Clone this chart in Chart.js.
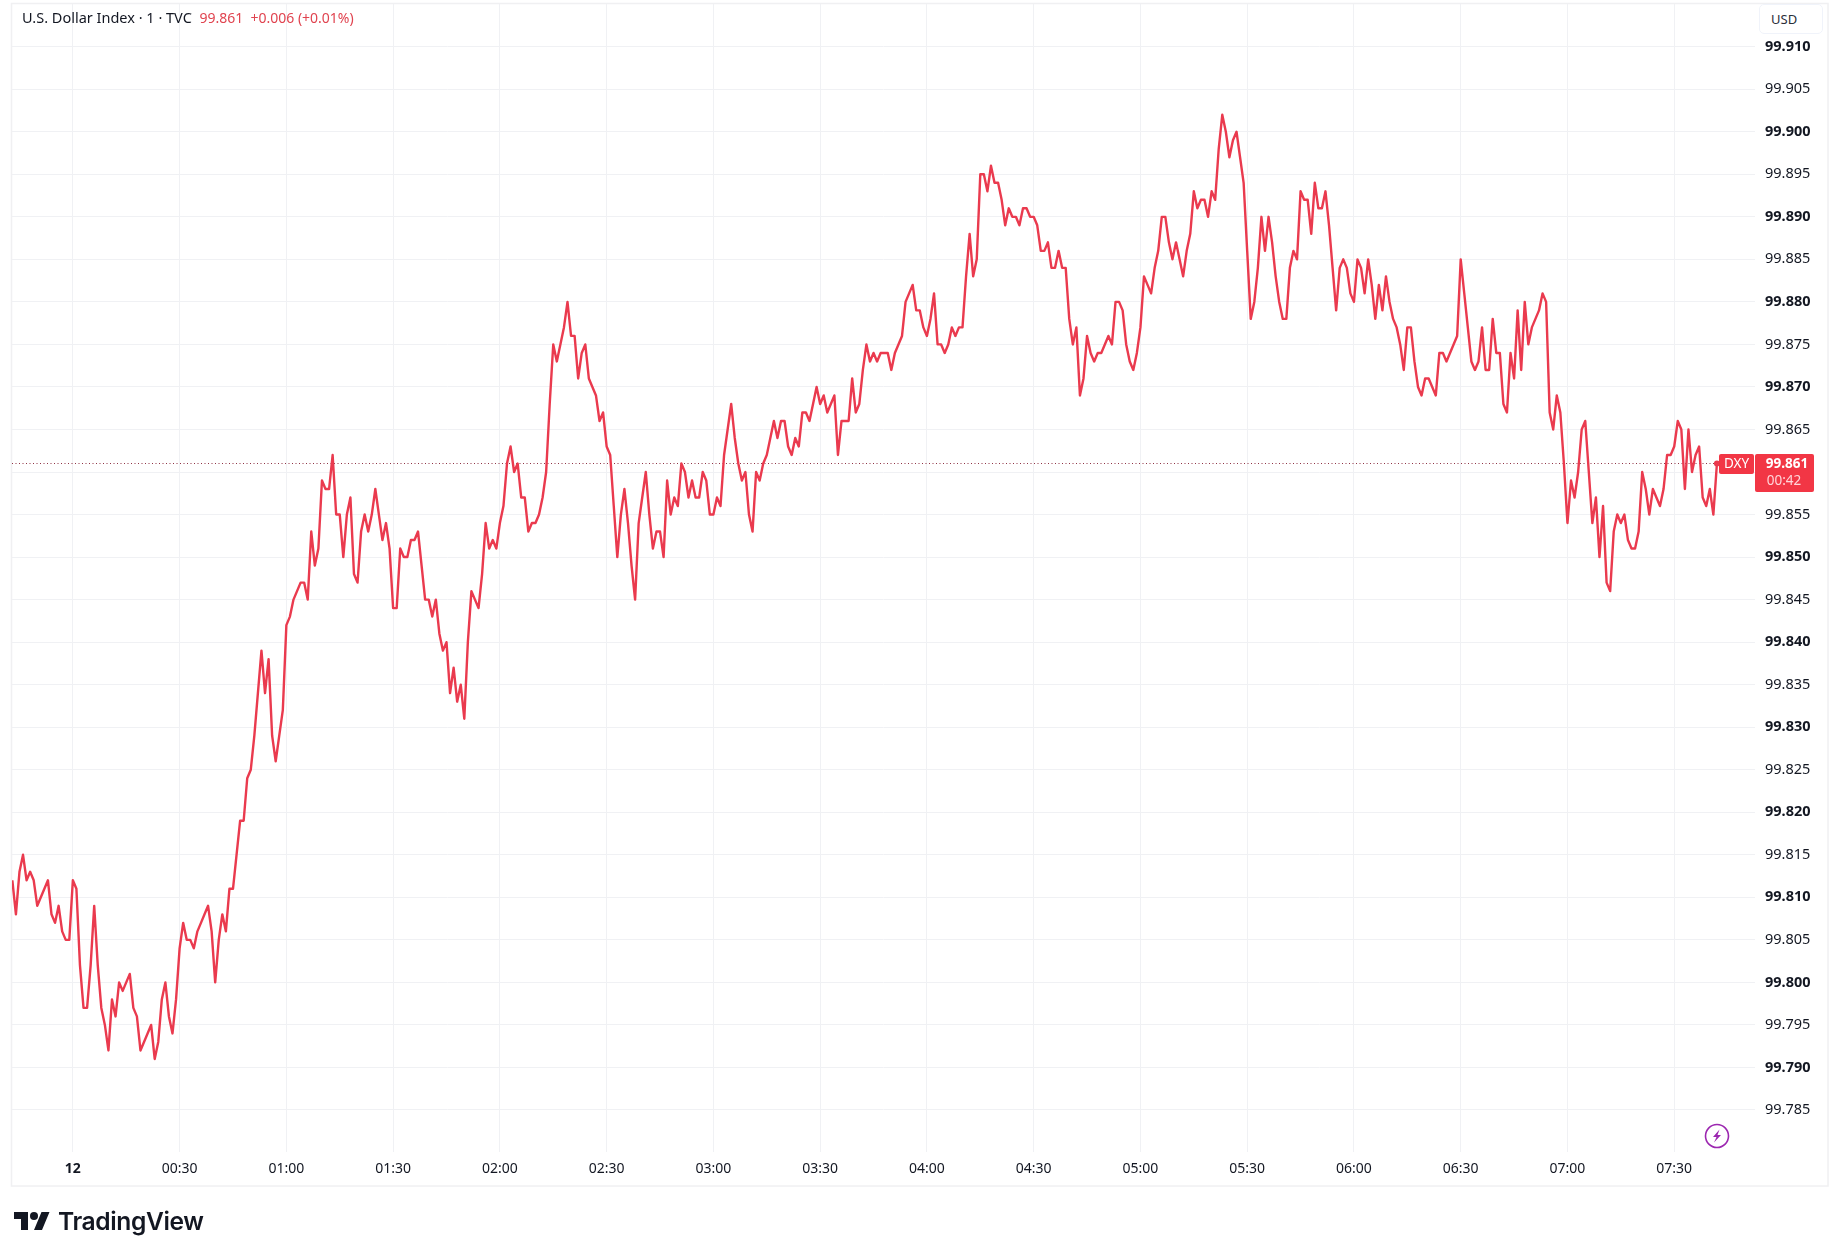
<!DOCTYPE html>
<html>
<head>
<meta charset="utf-8">
<title>U.S. Dollar Index</title>
<script src="https://cdn.jsdelivr.net/npm/chart.js@4/dist/chart.umd.min.js"></script>
<style>
    html, body { margin: 0; padding: 0; background: #fff; }
    #wrap { position: relative; width: 1840px; height: 1258px; overflow: hidden; font-family: "Noto Sans", sans-serif; }
    #chart { position: absolute; left: 0; top: 0; }
    #legend { position: absolute; left: 22px; top: 7px; font-size: 14.5px; line-height: 20px; color: #131722; white-space: pre; }
    #legend span { color: #e0434f; font-size: 14px; }
    #usd { position: absolute; left: 1759px; top: 4px; width: 64px; height: 30px; box-sizing: border-box; border: 1px solid #f0f3fa; border-radius: 5px; font-size: 13px; line-height: 28px; padding-left: 11px; color: #2a2e39; background: #fff; }
    #bolt { position: absolute; left: 1704px; top: 1123px; }
    #logo { position: absolute; left: 14px; top: 1208px; }
    #logoText { position: absolute; left: 58px; top: 1204px; font-family: Inter, sans-serif; font-weight: 600; font-size: 24.6px; line-height: 34px; letter-spacing: -0.4px; color: #131722; }
</style>
</head>
<body>
<div id="wrap">
    <canvas id="chart" width="1840" height="1258"></canvas>
    <div id="legend">U.S. Dollar Index · 1 · TVC  <span>99.861  +0.006 (+0.01%)</span></div>
    <div id="usd">USD</div>
    <svg id="bolt" width="26" height="26" viewBox="0 0 26 26">
        <circle cx="13" cy="13" r="11.5" fill="#fff" stroke="#9c27b0" stroke-width="1.6"/>
        <path d="M15.5 6.5 L9 14 L12.5 14 L10 19.5 L17 12 L13.5 12 Z" fill="#9c27b0"/>
    </svg>
    <svg id="logo" width="36" height="26" viewBox="0 0 36 26">
        <path d="M14 22H7V11H0V4h14v18zM28 22h-8l7.5-18h8L28 22z" fill="#131722"/>
        <circle cx="20" cy="8" r="4" fill="#131722"/>
    </svg>
    <div id="logoText">TradingView</div>
</div>
<script>
// 每分钟收盘价，从 23:43 开始
var closes = [
    99.812, 99.808, 99.813, 99.815, 99.812, 99.813, 99.812, 99.809, 99.810, 99.811, 99.812, 99.808, 99.807, 99.809, 99.806, 99.805, 99.805, 99.812, 99.811, 99.802,
    99.797, 99.797, 99.802, 99.809, 99.802, 99.797, 99.795, 99.792, 99.798, 99.796, 99.800, 99.799, 99.800, 99.801, 99.797, 99.796, 99.792, 99.793, 99.794, 99.795,
    99.791, 99.793, 99.798, 99.800, 99.796, 99.794, 99.798, 99.804, 99.807, 99.805, 99.805, 99.804, 99.806, 99.807, 99.808, 99.809, 99.806, 99.800, 99.805, 99.808,
    99.806, 99.811, 99.811, 99.815, 99.819, 99.819, 99.824, 99.825, 99.829, 99.834, 99.839, 99.834, 99.838, 99.829, 99.826, 99.829, 99.832, 99.842, 99.843, 99.845,
    99.846, 99.847, 99.847, 99.845, 99.853, 99.849, 99.851, 99.859, 99.858, 99.858, 99.862, 99.855, 99.855, 99.850, 99.855, 99.857, 99.848, 99.847, 99.853, 99.855,
    99.853, 99.855, 99.858, 99.855, 99.852, 99.854, 99.851, 99.844, 99.844, 99.851, 99.850, 99.850, 99.852, 99.852, 99.853, 99.849, 99.845, 99.845, 99.843, 99.845,
    99.841, 99.839, 99.840, 99.834, 99.837, 99.833, 99.835, 99.831, 99.840, 99.846, 99.845, 99.844, 99.848, 99.854, 99.851, 99.852, 99.851, 99.854, 99.856, 99.861,
    99.863, 99.860, 99.861, 99.857, 99.857, 99.853, 99.854, 99.854, 99.855, 99.857, 99.860, 99.868, 99.875, 99.873, 99.875, 99.877, 99.880, 99.876, 99.876, 99.871,
    99.874, 99.875, 99.871, 99.870, 99.869, 99.866, 99.867, 99.863, 99.862, 99.856, 99.850, 99.855, 99.858, 99.854, 99.849, 99.845, 99.854, 99.857, 99.860, 99.855,
    99.851, 99.853, 99.853, 99.850, 99.859, 99.855, 99.857, 99.856, 99.861, 99.860, 99.857, 99.859, 99.857, 99.857, 99.860, 99.859, 99.855, 99.855, 99.857, 99.856,
    99.862, 99.865, 99.868, 99.864, 99.861, 99.859, 99.860, 99.855, 99.853, 99.860, 99.859, 99.861, 99.862, 99.864, 99.866, 99.864, 99.866, 99.866, 99.863, 99.862,
    99.864, 99.863, 99.867, 99.867, 99.866, 99.868, 99.870, 99.868, 99.869, 99.867, 99.868, 99.869, 99.862, 99.866, 99.866, 99.866, 99.871, 99.867, 99.868, 99.872,
    99.875, 99.873, 99.874, 99.873, 99.874, 99.874, 99.874, 99.872, 99.874, 99.875, 99.876, 99.880, 99.881, 99.882, 99.879, 99.879, 99.877, 99.876, 99.878, 99.881,
    99.875, 99.875, 99.874, 99.875, 99.877, 99.876, 99.877, 99.877, 99.883, 99.888, 99.883, 99.885, 99.895, 99.895, 99.893, 99.896, 99.894, 99.894, 99.892, 99.889,
    99.891, 99.890, 99.890, 99.889, 99.891, 99.891, 99.890, 99.890, 99.889, 99.886, 99.886, 99.887, 99.884, 99.884, 99.886, 99.884, 99.884, 99.878, 99.875, 99.877,
    99.869, 99.871, 99.876, 99.874, 99.873, 99.874, 99.874, 99.875, 99.876, 99.875, 99.880, 99.880, 99.879, 99.875, 99.873, 99.872, 99.874, 99.877, 99.883, 99.882,
    99.881, 99.884, 99.886, 99.890, 99.890, 99.887, 99.885, 99.887, 99.885, 99.883, 99.886, 99.888, 99.893, 99.891, 99.892, 99.892, 99.890, 99.893, 99.892, 99.898,
    99.902, 99.900, 99.897, 99.899, 99.900, 99.897, 99.894, 99.886, 99.878, 99.880, 99.884, 99.890, 99.886, 99.890, 99.887, 99.883, 99.880, 99.878, 99.878, 99.884,
    99.886, 99.885, 99.893, 99.892, 99.892, 99.888, 99.894, 99.891, 99.891, 99.893, 99.889, 99.884, 99.879, 99.884, 99.885, 99.884, 99.881, 99.880, 99.885, 99.884,
    99.881, 99.885, 99.882, 99.878, 99.882, 99.879, 99.883, 99.880, 99.878, 99.877, 99.875, 99.872, 99.877, 99.877, 99.873, 99.870, 99.869, 99.871, 99.871, 99.870,
    99.869, 99.874, 99.874, 99.873, 99.874, 99.875, 99.876, 99.885, 99.881, 99.877, 99.873, 99.872, 99.873, 99.877, 99.872, 99.872, 99.878, 99.874, 99.874, 99.868,
    99.867, 99.874, 99.871, 99.879, 99.872, 99.880, 99.875, 99.877, 99.878, 99.879, 99.881, 99.880, 99.867, 99.865, 99.869, 99.867, 99.861, 99.854, 99.859, 99.857,
    99.860, 99.865, 99.866, 99.860, 99.854, 99.857, 99.850, 99.856, 99.847, 99.846, 99.853, 99.855, 99.854, 99.855, 99.852, 99.851, 99.851, 99.853, 99.860, 99.858,
    99.855, 99.858, 99.857, 99.856, 99.858, 99.862, 99.862, 99.863, 99.866, 99.865, 99.858, 99.865, 99.860, 99.862, 99.863, 99.857, 99.856, 99.858, 99.855, 99.861
];
var firstMinute = -17;
var lastPrice = 99.861;
var countdown = '00:42';
var symbol = 'DXY';

// 坐标轴刻度
var xTickMinutes = [0, 30, 60, 90, 120, 150, 180, 210, 240, 270, 300, 330, 360, 390, 420, 450];
var xTickLabels = ['12', '00:30', '01:00', '01:30', '02:00', '02:30', '03:00', '03:30', '04:00', '04:30', '05:00', '05:30', '06:00', '06:30', '07:00', '07:30'];
var yTickValues = [99.910, 99.905, 99.900, 99.895, 99.890, 99.885, 99.880, 99.875, 99.870, 99.865, 99.860, 99.855, 99.850, 99.845, 99.840, 99.835, 99.830, 99.825, 99.820, 99.815, 99.810, 99.805, 99.800, 99.795, 99.790, 99.785];

var RED = '#ea3a4e';
var BADGE = '#f23645';
var lastIndex = closes.length - 1;
var points = closes.map(function(v, i) { return { x: firstMinute + i, y: v }; });

// 外框
var framePlugin = {
    id: 'frame',
    beforeDraw: function(chart) {
        var ctx = chart.ctx;
        ctx.save();
        ctx.strokeStyle = '#f0f0f2';
        ctx.lineWidth = 1.5;
        ctx.strokeRect(11.5, 3.5, 1816.5, 1182.5);
        ctx.restore();
    }
};

// 最新价标签
var badgePlugin = {
    id: 'badge',
    afterDraw: function(chart) {
        var ctx = chart.ctx;
        var y = Math.round(chart.scales.y.getPixelForValue(lastPrice));
        ctx.save();
        ctx.fillStyle = BADGE;
        ctx.beginPath();
        ctx.roundRect(1719, y - 10, 35, 20, 2);
        ctx.fill();
        ctx.beginPath();
        ctx.roundRect(1755, y - 10, 59, 38, 2);
        ctx.fill();
        ctx.textBaseline = 'middle';
        ctx.textAlign = 'center';
        ctx.fillStyle = '#fff';
        ctx.font = '13.5px "Noto Sans"';
        ctx.fillText(symbol, 1736.5, y);
        ctx.font = 'bold 13.5px "Noto Sans"';
        ctx.fillText(lastPrice.toFixed(3), 1787, y);
        ctx.fillStyle = '#ffd5d9';
        ctx.font = '13.5px "Noto Sans"';
        ctx.fillText(countdown, 1784, y + 17);
        ctx.restore();
    }
};

new Chart(document.getElementById('chart').getContext('2d'), {
    type: 'line',
    data: {
        datasets: [
            {
                data: points,
                borderColor: RED,
                backgroundColor: RED,
                borderWidth: 2.4,
                borderJoinStyle: 'round',
                tension: 0,
                pointRadius: function(c) { return c.dataIndex === lastIndex ? 3 : 0; },
                pointBorderWidth: 0,
                order: 1,
            },
            {
                data: [{ x: -17.1, y: lastPrice }, { x: firstMinute + lastIndex, y: lastPrice }],
                borderColor: '#8f3345',
                borderWidth: 1,
                borderDash: [1, 2.5],
                pointRadius: 0,
                order: 2,
            },
        ],
    },
    options: {
        responsive: false,
        animation: false,
        devicePixelRatio: 1,
        events: [],
        layout: { padding: { left: 12, right: 12, top: 4, bottom: 72 } },
        plugins: { legend: { display: false }, tooltip: { enabled: false } },
        scales: {
            x: {
                type: 'linear',
                min: -17.1,
                max: 472.7,
                border: { display: false },
                grid: { color: '#f0f1f4', lineWidth: 1, drawTicks: false },
                afterBuildTicks: function(scale) {
                    scale.ticks = xTickMinutes.map(function(m) { return { value: m }; });
                },
                afterFit: function(scale) {
                    scale.height = 34;
                    scale.paddingLeft = 0;
                    scale.paddingRight = 0;
                },
                ticks: {
                    autoSkip: false,
                    maxRotation: 0,
                    padding: 9,
                    color: '#131722',
                    font: function(c) {
                        return { family: '"Noto Sans"', size: 14, weight: c.index === 0 ? 'bold' : 'normal' };
                    },
                    callback: function(value) {
                        return xTickLabels[xTickMinutes.indexOf(value)];
                    },
                },
            },
            y: {
                position: 'right',
                min: 99.78006,
                max: 99.91502,
                border: { display: false },
                grid: { color: '#f0f1f4', lineWidth: 1, drawTicks: false },
                afterBuildTicks: function(scale) {
                    scale.ticks = yTickValues.map(function(v) { return { value: v }; });
                },
                afterFit: function(scale) {
                    scale.width = 73;
                    scale.paddingTop = 0;
                    scale.paddingBottom = 0;
                },
                ticks: {
                    autoSkip: false,
                    padding: 10,
                    color: '#131722',
                    font: function(c) {
                        return { family: '"Noto Sans"', size: 14.5, weight: c.index % 2 === 0 ? 'bold' : 'normal' };
                    },
                    callback: function(value) { return value.toFixed(3); },
                },
            },
        },
    },
    plugins: [framePlugin, badgePlugin],
});
</script>
</body>
</html>
